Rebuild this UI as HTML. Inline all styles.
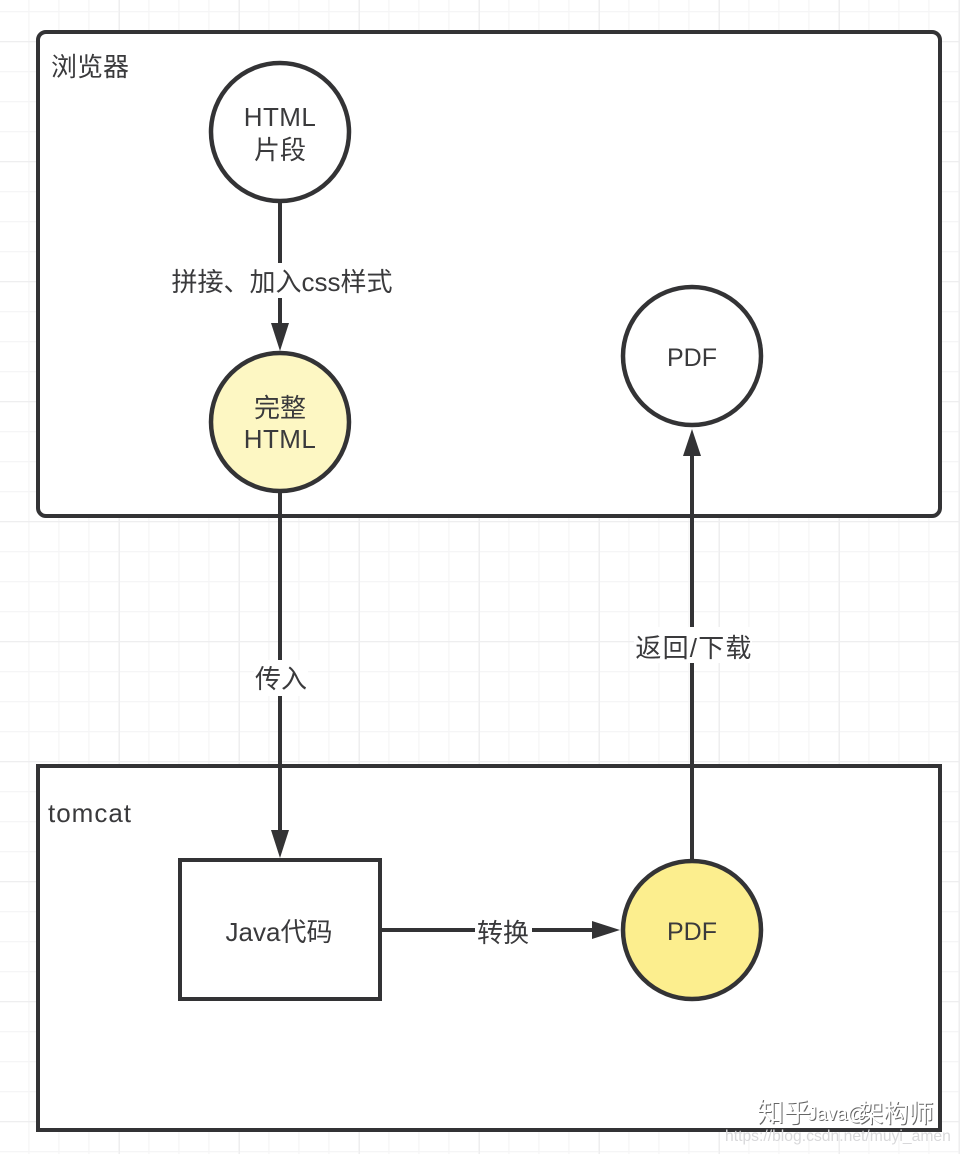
<!DOCTYPE html>
<html><head><meta charset="utf-8"><style>
html,body{margin:0;padding:0;background:#fff}
svg{display:block}
text{font-family:"Liberation Sans","Noto Sans CJK SC",sans-serif;fill:#3a3a3c;font-size:26px;text-anchor:middle}
</style></head><body>
<svg width="960" height="1154" viewBox="0 0 960 1154" xmlns="http://www.w3.org/2000/svg">
<defs>
<pattern id="g" width="30" height="30" patternUnits="userSpaceOnUse" x="-0.5" y="11">
<path d="M0 0.5H30M29.5 0V30" stroke="#f5f5f6" stroke-width="1.5" fill="none"/>
</pattern>
<pattern id="G" width="120" height="120" patternUnits="userSpaceOnUse" x="0" y="41">
<path d="M0 0.5H120M119.5 0V120" stroke="#eeeeef" stroke-width="1.5" fill="none"/>
</pattern>
</defs>
<rect width="960" height="1154" fill="#fff"/>
<rect width="960" height="1154" fill="url(#g)"/>
<rect width="960" height="1154" fill="url(#G)"/>

<rect x="38" y="32" width="902" height="484" rx="8" fill="#fff" stroke="#333335" stroke-width="4"/>
<rect x="38" y="766" width="902" height="364" fill="#fff" stroke="#333335" stroke-width="4"/>

<g stroke="#333335" stroke-width="4" fill="none">
<path d="M280 202V325"/>
<path d="M280 492V832"/>
<path d="M692 860V454"/>
<path d="M381 930H596"/>
</g>
<g fill="#333335">
<path d="M280 351L271 323H289Z"/>
<path d="M280 858L271 830H289Z"/>
<path d="M692 429L683 456H701Z"/>
<path d="M620 930L592 921V939Z"/>
</g>

<rect x="170" y="263" width="225" height="35" fill="#fff"/>
<rect x="254" y="660" width="54" height="36" fill="#fff"/>
<rect x="634" y="627" width="118" height="36" fill="#fff"/>
<rect x="475" y="914" width="57" height="32" fill="#fff"/>

<circle cx="280" cy="132" r="69" fill="#fff" stroke="#333335" stroke-width="4.500"/>
<circle cx="280" cy="422" r="69" fill="#fdf7c3" stroke="#333335" stroke-width="4.500"/>
<circle cx="692" cy="356" r="69" fill="#fff" stroke="#333335" stroke-width="4.500"/>
<circle cx="692" cy="930" r="69" fill="#fcee8e" stroke="#333335" stroke-width="4.500"/>
<rect x="180" y="860" width="200" height="139" fill="#fff" stroke="#333335" stroke-width="4"/>

<text x="90" y="76">浏览器</text>
<text x="280" y="126" style="letter-spacing:.4px">HTML</text>
<text x="280" y="159">片段</text>
<text x="282" y="291">拼接、加入css样式</text>
<text x="280" y="417">完整</text>
<text x="280" y="448" style="letter-spacing:.4px">HTML</text>
<text x="692" y="366" style="font-size:25px">PDF</text>
<text x="281" y="688">传入</text>
<text x="694" y="657" style="letter-spacing:1.200px">返回/下载</text>
<text x="90" y="822" style="letter-spacing:1px">tomcat</text>
<text x="279" y="941">Java代码</text>
<text x="503" y="942">转换</text>
<text x="692" y="940" style="font-size:25px">PDF</text>

<g style="font-size:26px">
<text x="785" y="1123" style="fill:#666;font-size:27px">知乎</text>
<text x="838" y="1121" style="fill:#666;font-size:19px">Java@</text>
<text x="897" y="1123" style="fill:#666;font-size:25px">架构师</text>
<text x="784" y="1122" style="fill:#fff;font-size:27px">知乎</text>
<text x="837" y="1120" style="fill:#fff;font-size:19px">Java@</text>
<text x="896" y="1122" style="fill:#fff;font-size:25px">架构师</text>
</g>
<text x="725" y="1141" style="fill:#d8d8da;font-size:15.700px;text-anchor:start">https://blog.csdn.net/muyi_amen</text>
</svg>
</body></html>
